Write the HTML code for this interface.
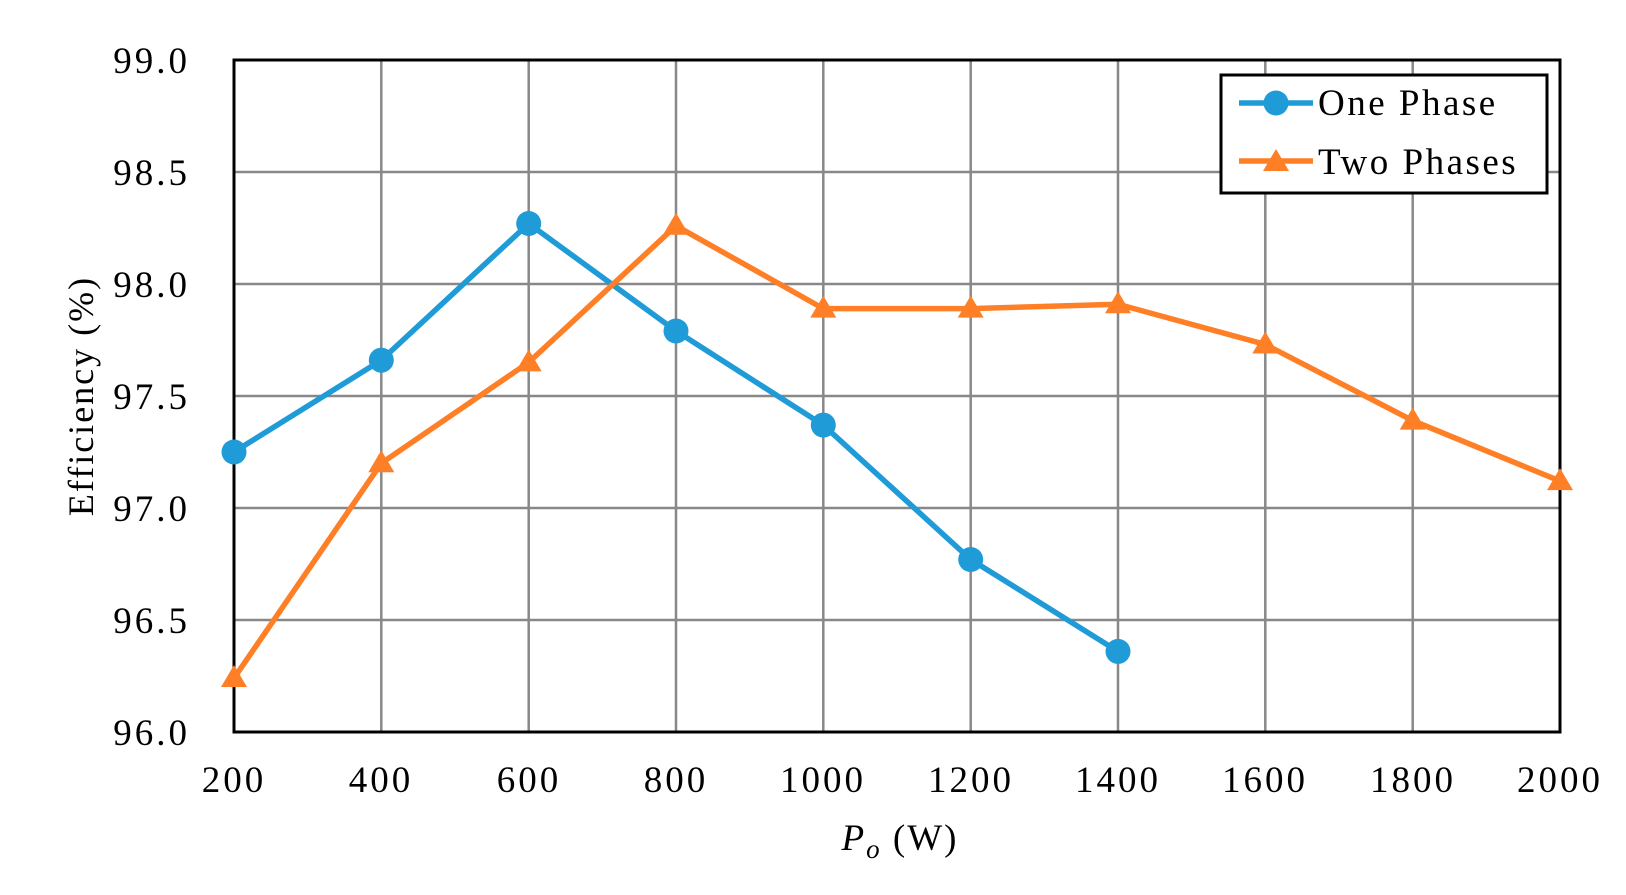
<!DOCTYPE html>
<html><head><meta charset="utf-8"><style>body{margin:0;background:#fff}</style></head><body>
<svg width="1626" height="890" xmlns="http://www.w3.org/2000/svg" font-family="Liberation Serif, serif">
<rect width="1626" height="890" fill="#fff"/>
<g stroke="#888" stroke-width="2.5">
<line x1="381.3" y1="60" x2="381.3" y2="732"/><line x1="528.7" y1="60" x2="528.7" y2="732"/><line x1="676" y1="60" x2="676" y2="732"/><line x1="823.3" y1="60" x2="823.3" y2="732"/><line x1="970.7" y1="60" x2="970.7" y2="732"/><line x1="1118" y1="60" x2="1118" y2="732"/><line x1="1265.3" y1="60" x2="1265.3" y2="732"/><line x1="1412.7" y1="60" x2="1412.7" y2="732"/>
<line x1="234" y1="172" x2="1560" y2="172"/><line x1="234" y1="284" x2="1560" y2="284"/><line x1="234" y1="396" x2="1560" y2="396"/><line x1="234" y1="508" x2="1560" y2="508"/><line x1="234" y1="620" x2="1560" y2="620"/>
</g>
<rect x="234" y="60" width="1326" height="672" fill="none" stroke="#000" stroke-width="3"/>
<g font-size="37" text-anchor="end" fill="#000" letter-spacing="3">
<text x="190" y="73">99.0</text><text x="190" y="185">98.5</text><text x="190" y="297">98.0</text><text x="190" y="409">97.5</text><text x="190" y="521">97.0</text><text x="190" y="633">96.5</text><text x="190" y="745">96.0</text>
</g>
<g font-size="37" text-anchor="middle" fill="#000" letter-spacing="3">
<text x="234" y="792">200</text><text x="381" y="792">400</text><text x="529" y="792">600</text><text x="676" y="792">800</text><text x="823" y="792">1000</text><text x="971" y="792">1200</text><text x="1118" y="792">1400</text><text x="1265" y="792">1600</text><text x="1413" y="792">1800</text><text x="1560" y="792">2000</text>
</g>
<text x="900" y="850" font-size="37" text-anchor="middle" letter-spacing="2"><tspan font-style="italic">P</tspan><tspan font-style="italic" font-size="27" dy="8">o</tspan><tspan dy="-8"> (W)</tspan></text>
<text transform="translate(93,396) rotate(-90)" font-size="36" text-anchor="middle" letter-spacing="2">Efficiency  (%)</text>
<polyline fill="none" stroke="#1f9bd7" stroke-width="5.5" points="234,452 381.3,360.2 528.7,223.5 676,331 823.3,425.1 970.7,559.5 1118,651.4"/>
<g fill="#1f9bd7">
<circle cx="234" cy="452" r="12.5"/><circle cx="381.3" cy="360.2" r="12.5"/><circle cx="528.7" cy="223.5" r="12.5"/><circle cx="676" cy="331" r="12.5"/><circle cx="823.3" cy="425.1" r="12.5"/><circle cx="970.7" cy="559.5" r="12.5"/><circle cx="1118" cy="651.4" r="12.5"/>
</g>
<polyline fill="none" stroke="#ff7f27" stroke-width="5.5" points="234,678.2 381.3,463.2 528.7,362.4 676,225.8 823.3,308.6 970.7,308.6 1118,304.2 1265.3,344.5 1412.7,420.6 1560,481.1"/>
<g fill="#ff7f27">
<path d="M234,665l13,22h-26z"/><path d="M381.3,450.2l13,22h-26z"/><path d="M528.7,349.4l13,22h-26z"/><path d="M676,212.8l13,22h-26z"/><path d="M823.3,295.6l13,22h-26z"/><path d="M970.7,295.6l13,22h-26z"/><path d="M1118,291.2l13,22h-26z"/><path d="M1265.3,331.5l13,22h-26z"/><path d="M1412.7,407.6l13,22h-26z"/><path d="M1560,468.1l13,22h-26z"/>
</g>
<rect x="1221" y="75" width="326" height="118" fill="#fff" stroke="#000" stroke-width="3"/>
<line x1="1239" y1="103" x2="1313" y2="103" stroke="#1f9bd7" stroke-width="5.5"/>
<circle cx="1276" cy="103" r="12.5" fill="#1f9bd7"/>
<line x1="1239" y1="161" x2="1313" y2="161" stroke="#ff7f27" stroke-width="5.5"/>
<path d="M1276,149l13,22h-26z" fill="#ff7f27"/>
<text x="1318" y="115" font-size="37" letter-spacing="2.5">One Phase</text>
<text x="1318" y="174" font-size="37" letter-spacing="2.5">Two Phases</text>
</svg>
</body></html>
